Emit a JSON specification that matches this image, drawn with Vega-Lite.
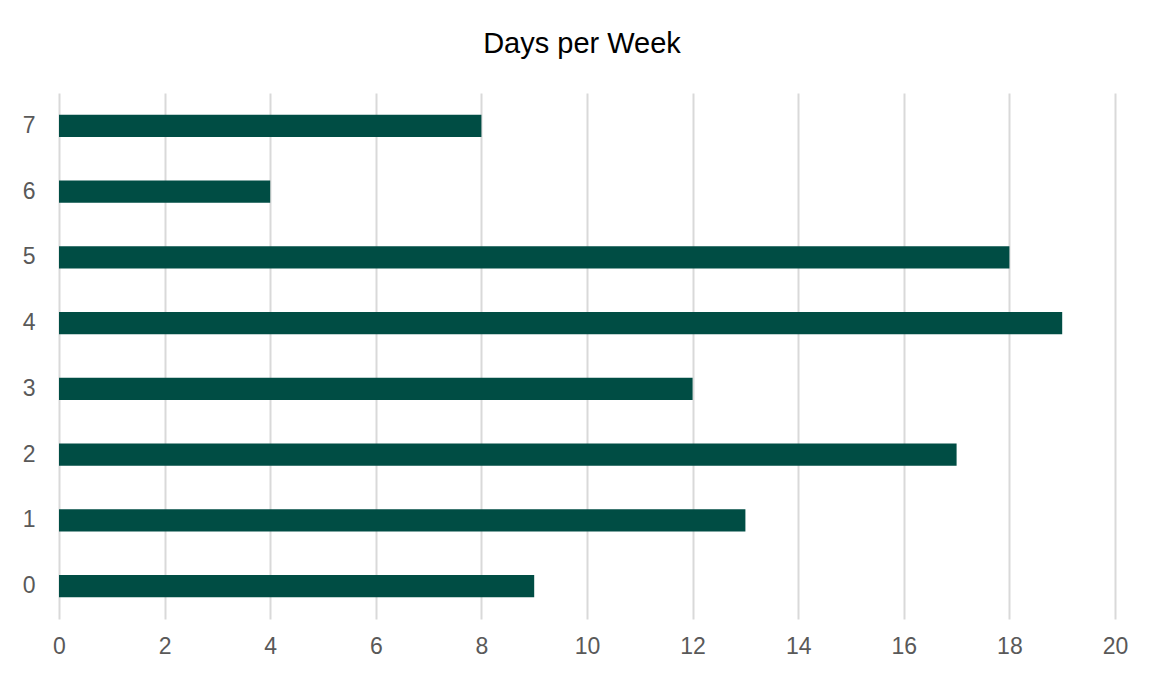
{
  "$schema": "https://vega.github.io/schema/vega-lite/v6.json",
  "width": 1056,
  "height": 526,
  "autosize": {"type": "none"},
  "padding": {"left": 59, "top": 93, "right": 38, "bottom": 56},
  "background": "white",
  "title": {
    "text": "Days per Week",
    "font": "Liberation Sans",
    "fontSize": 29,
    "fontWeight": "normal",
    "color": "#000000",
    "anchor": "middle",
    "baseline": "alphabetic",
    "offset": 11,
    "dx": -5
  },
  "config": {
    "view": {"stroke": null},
    "font": "Liberation Sans"
  },
  "data": {
    "values": [
      {"days": "0", "count": 9},
      {"days": "1", "count": 13},
      {"days": "2", "count": 17},
      {"days": "3", "count": 12},
      {"days": "4", "count": 19},
      {"days": "5", "count": 18},
      {"days": "6", "count": 4},
      {"days": "7", "count": 8}
    ]
  },
  "mark": {"type": "bar", "color": "#004D44"},
  "encoding": {
    "y": {
      "field": "days",
      "type": "ordinal",
      "sort": "descending",
      "scale": {"paddingInner": 0.665, "paddingOuter": 0.3325},
      "axis": {
        "title": null,
        "ticks": false,
        "domain": false,
        "grid": false,
        "labelFontSize": 23,
        "labelColor": "#595959",
        "labelPadding": 24,
        "labelFont": "Liberation Sans"
      }
    },
    "x": {
      "field": "count",
      "type": "quantitative",
      "scale": {"domain": [0, 20], "nice": false},
      "axis": {
        "title": null,
        "values": [0, 2, 4, 6, 8, 10, 12, 14, 16, 18, 20],
        "ticks": false,
        "domain": false,
        "grid": true,
        "gridColor": "#d9d9d9",
        "gridWidth": 2,
        "labelFontSize": 23,
        "labelColor": "#595959",
        "labelPadding": 16,
        "labelFont": "Liberation Sans",
        "labelFlush": false
      }
    }
  }
}
